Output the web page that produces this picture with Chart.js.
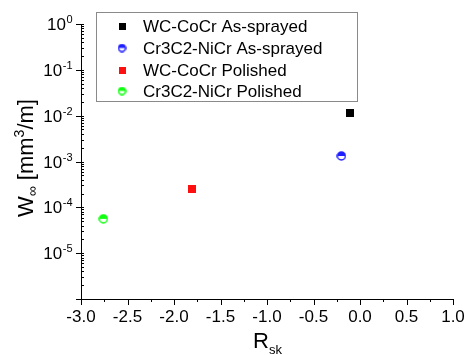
<!DOCTYPE html>
<html>
<head>
<meta charset="utf-8">
<script src="https://cdn.jsdelivr.net/npm/chart.js@4/dist/chart.umd.min.js"></script>
<style>
  html, body { margin: 0; padding: 0; background: #fff; }
  #wrap { width: 467px; height: 355px; }
</style>
</head>
<body>
<div id="wrap"><canvas id="chart" width="467" height="355"></canvas></div>
<script>
// series (x = Rsk, y = W-infinity in mm3/m)
const seriesNames = ['WC-CoCr As-sprayed', 'Cr3C2-NiCr As-sprayed', 'WC-CoCr Polished', 'Cr3C2-NiCr Polished'];
const seriesColors = ['#000000', '#1f1fff', '#ff1010', '#10ff10'];
const seriesShapes = ['square', 'half', 'square', 'half'];
const rskValues = [-0.11, -0.20, -1.81, -2.76];
const wearValues = [1.13e-2, 1.32e-3, 2.5e-4, 5.6e-5];

const xTicks = [-3.0, -2.5, -2.0, -1.5, -1.0, -0.5, 0.0, 0.5, 1.0];
const yExponents = [0, -1, -2, -3, -4, -5];

const FONT = "Arial, 'Liberation Sans', sans-serif";

// marker images
function makeMarker(shape, color, size) {
    const c = document.createElement('canvas');
    c.width = size; c.height = size;
    const g = c.getContext('2d');
    if (shape === 'square') {
        g.fillStyle = color;
        g.fillRect(0, 0, size, size);
    } else {
        const r = size / 2 - 1;
        const m = size / 2;
        g.fillStyle = '#fff';
        g.beginPath(); g.arc(m, m, r, 0, Math.PI * 2); g.fill();
        g.fillStyle = color;
        g.beginPath(); g.arc(m, m, r, Math.PI, 0); g.closePath(); g.fill();
        g.strokeStyle = color;
        g.lineWidth = 1.5;
        g.beginPath(); g.arc(m, m, r, 0, Math.PI * 2); g.stroke();
    }
    return c;
}

const datasets = seriesNames.map((name, i) => ({
    label: name,
    data: [{ x: rskValues[i], y: wearValues[i] }],
    pointStyle: makeMarker(seriesShapes[i], seriesColors[i], seriesShapes[i] === 'square' ? 8 : 10),
    backgroundColor: seriesColors[i],
    borderColor: seriesColors[i],
}));

const legendMarkers = seriesNames.map((n, i) =>
    makeMarker(seriesShapes[i], seriesColors[i], seriesShapes[i] === 'square' ? 7 : 9));

const decorPlugin = {
    id: 'decor',
    afterDraw(chart) {
        const ctx = chart.ctx;
        const xs = chart.scales.x;
        const ys = chart.scales.y;
        const area = chart.chartArea;
        ctx.save();
        ctx.strokeStyle = '#000';
        ctx.lineWidth = 1;
        ctx.fillStyle = '#000';

        // x ticks
        for (let v = -3; v <= 1.0001; v += 0.25) {
            const px = Math.round(xs.getPixelForValue(v)) + 0.5;
            const major = Math.abs(v * 2 - Math.round(v * 2)) < 1e-6;
            ctx.beginPath();
            ctx.moveTo(px, area.bottom);
            ctx.lineTo(px, area.bottom + (major ? 6 : 3));
            ctx.stroke();
        }
        ctx.font = '17px ' + FONT;
        ctx.textAlign = 'center';
        ctx.textBaseline = 'alphabetic';
        xTicks.forEach(v => {
            ctx.fillText(v.toFixed(1), xs.getPixelForValue(v), 322);
        });

        // y ticks
        for (let d = -6; d <= 0; d++) {
            const py = Math.round(ys.getPixelForValue(Math.pow(10, d))) + 0.5;
            ctx.beginPath();
            ctx.moveTo(area.left - 5, py);
            ctx.lineTo(area.left + 3, py);
            ctx.stroke();
            if (d < 0) {
                for (let k = 2; k <= 9; k++) {
                    const pm = Math.round(ys.getPixelForValue(k * Math.pow(10, d))) + 0.5;
                    ctx.beginPath();
                    ctx.moveTo(area.left, pm);
                    ctx.lineTo(area.left + 3, pm);
                    ctx.stroke();
                }
            }
        }
        ctx.textAlign = 'left';
        yExponents.forEach(e => {
            const py = ys.getPixelForValue(Math.pow(10, e));
            ctx.font = '17px ' + FONT;
            const wb = ctx.measureText('10').width;
            ctx.font = '11px ' + FONT;
            const we = ctx.measureText(String(e)).width;
            const x0 = 72 - wb - we;
            ctx.font = '17px ' + FONT;
            ctx.fillText('10', x0, py + 6);
            ctx.font = '11px ' + FONT;
            ctx.fillText(String(e), x0 + wb + 0.5, py - 1);
        });

        // x title
        ctx.font = '22px ' + FONT;
        ctx.fillText('R', 253, 348);
        const wr = ctx.measureText('R').width;
        ctx.font = '13px ' + FONT;
        ctx.fillText('sk', 253 + wr, 354);

        // y title (rotated)
        ctx.save();
        ctx.translate(33, 217);
        ctx.rotate(-Math.PI / 2);
        let cx = 0;
        const parts = [
            ['W', 22, 0], ['\u221E', 14, 4], [' [mm', 22, 0], ['3', 14, -9], ['/m]', 22, 0]
        ];
        parts.forEach(p => {
            ctx.font = p[1] + 'px ' + FONT;
            ctx.fillText(p[0], cx, p[2]);
            cx += ctx.measureText(p[0]).width;
        });
        ctx.restore();

        // legend box
        ctx.strokeStyle = '#8a8a8a';
        ctx.lineWidth = 1;
        ctx.strokeRect(96.5, 12.5, 261, 89);
        ctx.font = '17px ' + FONT;
        ctx.fillStyle = '#000';
        const rows = [26, 48, 70, 91];
        seriesNames.forEach((name, i) => {
            const m = legendMarkers[i];
            ctx.drawImage(m, 122 - m.width / 2, rows[i] - m.height / 2);
            ctx.fillText(name, 143, rows[i] + 6);
        });
        ctx.restore();
    }
};

new Chart(document.getElementById('chart'), {
    type: 'scatter',
    data: { datasets },
    options: {
        responsive: false,
        animation: false,
        layout: { padding: { top: 24, right: 14, left: 0, bottom: 0 } },
        plugins: {
            legend: { display: false },
            tooltip: { enabled: false },
        },
        scales: {
            x: {
                type: 'linear',
                min: -3,
                max: 1,
                ticks: { display: false },
                grid: { display: false },
                border: { display: true, color: '#000', width: 1 },
                afterFit(s) { s.height = 56; },
            },
            y: {
                type: 'logarithmic',
                min: 1e-6,
                max: 1,
                ticks: { display: false },
                grid: { display: false },
                border: { display: true, color: '#000', width: 1 },
                afterFit(s) { s.width = 81; },
            },
        },
    },
    plugins: [decorPlugin],
});
</script>
</body>
</html>
